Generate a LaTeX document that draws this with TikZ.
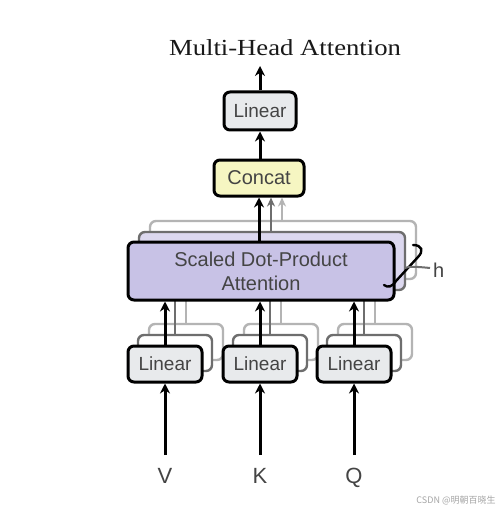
\documentclass[tikz,border=0pt]{standalone}
\usepackage{fontspec}
\setmainfont{Liberation Serif}
\setsansfont{Liberation Sans}
\newfontfamily\cjk{Noto Sans CJK SC}
\usetikzlibrary{arrows.meta,calc}
\definecolor{linfill}{HTML}{E8EAEC}
\definecolor{catfill}{HTML}{F6F6C2}
\definecolor{sdpafill}{HTML}{C8C2E6}
\definecolor{sdpafillb}{HTML}{DCD8EF}
\definecolor{boxtext}{HTML}{444444}
\definecolor{shdA}{HTML}{6E6E6E}
\definecolor{shdB}{HTML}{B4B4B4}
\begin{document}
\begin{tikzpicture}[x=1pt,y=-1pt,
  box/.style={draw=black, line width=3pt, rounded corners=6pt, inner sep=0pt,
    font=\sffamily\fontsize{19}{22}\selectfont, text=boxtext},
  arr/.style={line width=3pt, -{Stealth[length=10pt,width=10pt]}},
  garrA/.style={line width=2.4pt, draw=shdA, -{Stealth[length=9pt,width=8pt]}, shdA},
  garrB/.style={line width=2.4pt, draw=shdB, -{Stealth[length=9pt,width=8pt]}, shdB},
  shadowA/.style={draw=shdA, line width=2.4pt, rounded corners=6pt},
  shadowB/.style={draw=shdB, line width=2.4pt, rounded corners=6pt},
  lbl/.style={font=\sffamily\fontsize{22}{24}\selectfont, text=boxtext, anchor=base, inner sep=0pt}]
\useasboundingbox (0,0) rectangle (503,513);
\fill[white] (0,0) rectangle (503,513);

% title
\node[font=\fontsize{23}{25}\selectfont, anchor=base, inner sep=0pt, text=black!90] (title) at (285,56) {\scalebox{1.16}[1]{Multi-Head Attention}};

% shadows of SDPA
\draw[shadowB, fill=white] (150,221) rectangle (416,279);
\draw[shadowA, fill=sdpafillb] (139,232) rectangle (405,290);

% shadows of bottom linears and their gray connectors
\foreach \cx in {165,260,354} {
  \draw[shadowB, fill=white] (\cx-16,324) rectangle (\cx+58,360);
  \draw[shadowA, fill=white] (\cx-27,335) rectangle (\cx+47,371);
  \draw[line width=2.4pt, shdB] (\cx+21,324) -- (\cx+21,300);
  \draw[line width=2.4pt, shdA] (\cx+10,335) -- (\cx+10,300);
}

% main boxes
\node[box, fill=linfill, minimum width=72pt, minimum height=38pt] (lintop) at (260,111) {Linear};
\node[box, fill=catfill, minimum width=90pt, minimum height=36pt, font=\sffamily\fontsize{20}{22}\selectfont] (concat) at (259,178) {Concat};
\node[box, fill=sdpafill, minimum width=266pt, minimum height=58pt, align=center,
  font=\sffamily\fontsize{20}{24}\selectfont] (sdpa) at (261,271) {Scaled Dot-Product\\Attention};
\node[box, fill=linfill, minimum width=74pt, minimum height=36pt] (linv) at (165,364) {Linear};
\node[box, fill=linfill, minimum width=74pt, minimum height=36pt] (link) at (260,364) {Linear};
\node[box, fill=linfill, minimum width=74pt, minimum height=36pt] (linq) at (354,364) {Linear};

% inputs
\node[lbl] (v) at (165,483) {V};
\node[lbl] (k) at (260,483) {K};
\node[lbl] (q) at (354,483) {Q};
\coordinate (vtop) at (165,455);
\coordinate (ktop) at (260,455);
\coordinate (qtop) at (354,455);

% connectors
\coordinate (out) at (260,66);
\draw[arr] (lintop.north) -- (out);
\draw[arr] (concat.north -| lintop) -- (lintop.south);
\coordinate (sA) at (271,232);
\coordinate (sB) at (282,221);
\draw[garrB] (sB) -- (sB |- concat.south);
\draw[garrA] (sA) -- (sA |- concat.south);
\draw[arr] (sdpa.north -| 259,0) -- (concat.south);
\draw[arr] (linv.north) -- (linv.north |- sdpa.south);
\draw[arr] (link.north) -- (link.north |- sdpa.south);
\draw[arr] (linq.north) -- (linq.north |- sdpa.south);
\draw[arr] (vtop) -- (linv.south);
\draw[arr] (ktop) -- (link.south);
\draw[arr] (qtop) -- (linq.south);

% h brace
\draw[line width=2.4pt, line cap=round] (413,245) .. controls (422,245) and (424,251) .. (418,257)
  -- (396,281) .. controls (392,287) and (388,288) .. (384,285);
\draw[line width=2pt, shdA] (405,268) .. controls (410,266) and (420,267) .. (430,268);
\node[font=\sffamily\fontsize{20}{22}\selectfont, text=boxtext, anchor=base west, inner sep=0pt] (h) at (433,277) {h};

% watermark
\node[font=\cjk\fontsize{9}{10}\selectfont, text=black!35, inner sep=0pt] (wm) at (456,500) {CSDN @明朝百晓生};
\end{tikzpicture}
\end{document}
